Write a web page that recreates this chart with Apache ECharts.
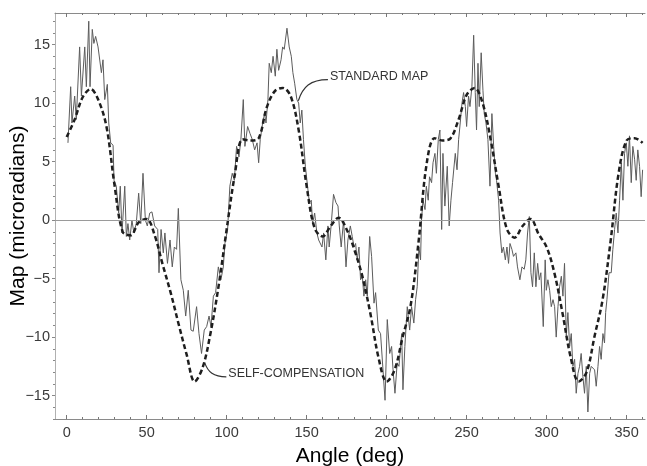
<!DOCTYPE html>
<html>
<head>
<meta charset="utf-8">
<title>Map vs angle</title>
<script src="https://cdn.jsdelivr.net/npm/echarts@6/dist/echarts.min.js"></script>
<style>
  html, body { margin: 0; padding: 0; background: #fff; }
  #chart { width: 647px; height: 466px; }
</style>
</head>
<body>
<div id="chart"></div>
<script>
// standard map (noisy trace)
var stdAngle = [0.8, 2.5, 3.3, 5, 6, 8.1, 9.2, 11.3, 12.3, 13.8, 14.6, 16, 17, 18.1, 19.6, 21.7, 22.7, 23.8, 25.4, 26.3,
  27.5, 29, 29.6, 31, 32.5, 33.5, 34.6, 36.3, 37.3, 38.3, 39.4, 40.8, 42, 43.5, 45, 46.3, 47.7, 49.2, 50.4, 51.9,
  53.3, 55, 56.9, 57.7, 59, 60.4, 61.4, 63, 64.6, 66, 67.3, 68.7, 69.8, 71.4, 72.9, 74.4, 76, 77.7, 79.1, 81.2,
  82.7, 84.3, 86, 87.5, 89, 90.2, 91.7, 93.1, 94.8, 96.4, 97.9, 98.9, 100.6, 102, 103.5, 104.8, 106.2, 107.7, 108.9, 110.4,
  111.4, 113.1, 114.6, 116, 117.5, 119, 120, 121, 122.5, 123.7, 124.6, 125.8, 126.6, 127.9, 129, 130.4, 131.4, 132.5, 134, 135,
  136, 137.7, 139.1, 140.4, 141.4, 142.5, 143.9, 145, 146, 147, 148, 149.2, 150.8, 151.7, 152.9, 153.7, 155, 156.4, 157.5, 159.6,
  160.6, 162, 163.3, 164.1, 165.4, 166.8, 168.3, 169.6, 170.4, 171.6, 173.1, 174.6, 175.8, 177.3, 178.5, 179.6, 180.6, 181.6, 182.7, 183.7,
  184.8, 185.8, 186.9, 187.9, 189.4, 190.6, 192.1, 193.1, 194.8, 196.2, 197.3, 199, 200.4, 201.9, 203.1, 204, 205.2, 206.6, 207.7, 209.4,
  210.2, 211.4, 212.9, 214.4, 215.6, 217, 218.1, 219.1, 220.2, 221.2, 221.8, 222.7, 224, 224.8, 226, 226.8, 228.1, 229, 230.2, 231.1,
  232.3, 233.3, 234.4, 235.2, 236.4, 237.9, 239.1, 240.2, 241.2, 242.9, 244, 245, 246, 247.1, 248.1, 249.2, 250, 251.2, 252.1, 253.3,
  254.4, 255.4, 256.2, 257.1, 257.9, 259.1, 260.2, 261, 262.1, 263.3, 264.6, 265.8, 266.9, 268, 268.7, 270, 270.9, 272, 273, 274.2,
  275.2, 276.2, 277.1, 278.3, 279.3, 280.8, 281.8, 283.3, 284.6, 286, 287, 288.1, 289.2, 290.2, 291.2, 292.3, 293.3, 294.4, 295.4, 296.4,
  297.9, 299.1, 299.8, 300.8, 301.9, 302.9, 304, 305, 306, 307.1, 308.1, 309.2, 310.2, 311.2, 312.3, 313.3, 314.4, 315.4, 316.4, 317.5,
  318.5, 319.6, 320.6, 321.6, 322.7, 323.7, 324.8, 325.8, 326.9, 327.9, 328.9, 330, 331, 332.1, 333.1, 334.1, 335.2, 336.2, 336.9, 337.7,
  339, 340.4, 341.4, 342.5, 343.5, 344.6, 345.6, 346.7, 347.7, 348.7, 349.8, 350.8, 351.8, 352.9, 353.9, 355, 356, 357, 358.1, 359.1, 360]
var stdMap = [6.6, 11.4, 8.3, 10.6, 8.6, 14.8, 10.6, 14.8, 11.4, 17.0, 11.4, 16.3, 15.1, 15.7, 14.8, 12.6, 13.7, 10.3, 11.6, 8.3,
  6.6, 6.4, 3.4, 2.9, 0.6, 2.9, -1.1, 2.9, -1.4, -0.3, -1.7, 0, -1.1, -0.3, 2.3, -0.3, 4.0, 0, -0.5, 0.6,
  0.7, -0.5, -0.8, -4.5, -0.8, -2.8, -1.1, -3.7, -1.7, -4.0, -2.3, -2.5, 1.0, -5.1, -6.0, -8.2, -6.0, -9.4, -9.5, -7.4,
  -9.7, -11.4, -9.4, -9.1, -8.2, -9.1, -6.5, -6.2, -4.0, -5.1, -4.0, -2.0, -0.8, 2.9, 4.0, 3.4, 6.3, 5.4, 6.9, 10.3,
  6.3, 8.0, 7.4, 6.9, 6.0, 6.6, 4.9, 6.9, 8.3, 9.1, 8.3, 10.3, 13.4, 12.6, 14.0, 12.3, 14.6, 12.8, 13.7, 14.8,
  14.6, 16.4, 14.8, 14.0, 12.6, 11.7, 10.3, 10.0, 8.3, 9.4, 6.9, 4.6, 2.6, 1.5, 1.7, -0.3, 0.6, -1.1, -1.7, -2.3,
  -1.1, -3.4, -0.5, -2.3, -0.3, 2.2, 1.5, 1.2, -0.5, -2.3, 0, -4.0, -1.7, -0.5, -1.4, -2.3, -2.0, -3.4, -2.3, -5.1,
  -4.8, -6.5, -5.1, -6.5, -1.4, -3.1, -7.1, -6.2, -9.4, -9.7, -9.7, -15.4, -8.5, -11.4, -10.8, -12.8, -14.8, -12.2, -12.5, -9.7,
  -14.5, -10.8, -7.4, -9.4, -7.4, -8.8, -6.8, -5.7, -2.3, -3.4, 0, 1.7, 0.9, 2.9, 1.7, 3.7, 3.2, 4.9, 5.7, 4.0,
  6.9, 7.7, -0.8, 5.7, 1.2, 4.6, -0.5, 1.7, 3.2, 5.7, 4.3, 6.9, 8.3, 10.0, 10.9, 9.7, 8.0, 10.6, 9.7, 11.4,
  15.8, 10.9, 7.7, 13.4, 9.7, 14.3, 11.1, 9.1, 8.3, 6.9, 2.9, 9.1, 6.3, 4.0, 3.4, 1.7, -1.1, -2.8, -2.3, -3.4,
  -2.3, -3.7, -2.0, -2.5, -3.1, -2.8, -4.0, -5.1, -4.0, -4.2, -3.4, -1.1, 0.3, -4.5, -5.7, -2.8, -5.7, -3.7, -5.1, -4.5,
  -9.1, -3.4, -6.0, -5.1, -6.0, -7.4, -6.8, -7.4, -10.0, -7.4, -5.7, -4.8, -6.5, -3.7, -9.9, -7.9, -10.8, -9.7, -12.5, -11.9,
  -14.8, -13.1, -12.5, -11.4, -13.4, -14.8, -12.5, -16.4, -13.1, -12.5, -12.5, -12.8, -14.2, -12.5, -10.8, -11.9, -9.7, -10.5, -7.9, -6.8,
  -4.5, -4.5, -2.5, -0.8, 0.6, -1.1, 1.7, 4.9, 1.7, 5.7, 6.6, 4.6, 7.2, 3.2, 6.3, 5.2, 3.4, 6.0, 4.6, 2.0, 4.3]

// self-compensation (dashed), every 5 deg
var compAngle = [0, 5, 10, 15, 20, 25, 30, 35, 40, 45, 50, 55, 60, 65, 70, 75, 80, 85, 90, 95,
  100, 105, 110, 115, 120, 125, 130, 135, 140, 145, 150, 155, 160, 165, 170, 175, 180, 185, 190, 195,
  200, 205, 210, 215, 220, 225, 230, 235, 240, 245, 250, 255, 260, 265, 270, 275, 280, 285, 290, 295,
  300, 305, 310, 315, 320, 325, 330, 335, 340, 345, 350, 355, 360]
var compMap = [7.1, 8.6, 10.5, 11.2, 10.2, 7.9, 2.9, -1.0, -1.3, -0.2, 0.1, -1.3, -3.8, -6.2, -8.9, -11.5, -13.8, -12.6, -9.6, -5.6,
  -0.8, 3.8, 6.9, 6.8, 7.0, 9.6, 11.0, 11.3, 10.6, 7.7, 2.9, -0.7, -1.4, -0.5, 0.2, -0.8, -2.6, -4.9, -8.1, -11.8,
  -13.8, -12.8, -10.0, -7.3, -1.8, 4.8, 7.0, 6.8, 7.0, 8.6, 10.7, 11.3, 10.0, 6.9, 2.9, -0.7, -1.5, -0.5, 0.1, -1.2,
  -2.3, -4.6, -8.0, -11.7, -13.8, -13.0, -9.9, -6.8, -1.8, 4.0, 6.8, 7.0, 6.6]

var xMajor = [0, 50, 100, 150, 200, 250, 300, 350]
var xMinor = [10, 20, 30, 40, 60, 70, 80, 90, 110, 120, 130, 140, 160, 170, 180, 190, 210, 220, 230, 240,
  260, 270, 280, 290, 310, 320, 330, 340, 360]
var yMajor = [-15, -10, -5, 0, 5, 10, 15]
var yMinor = [-17, -16, -14, -13, -12, -11, -9, -8, -7, -6, -4, -3, -2, -1, 1, 2, 3, 4, 6, 7, 8, 9, 11, 12, 13, 14, 16, 17]

var FONT = "'Liberation Sans', Arial, sans-serif"
var X_MIN = -7.3
var X_MAX = 361.5
var Y_MIN = -17.0
var Y_MAX = 17.7

function zip (a, b) {
  return a.map(function (v, i) { return [v, b[i]] })
}

function minus (v) {
  return String(v).replace('-', '\u2212')
}

// one x axis per tick set, all on the same scale
function xAx (pos, ticks, len, showLine, showLabel, name) {
  return {
    type: 'value',
    position: pos,
    min: X_MIN,
    max: X_MAX,
    name: name || '',
    nameLocation: 'middle',
    nameGap: 27,
    nameTextStyle: { color: '#000', fontSize: 21, fontFamily: FONT },
    splitLine: { show: false },
    axisLine: { show: showLine, onZero: false, lineStyle: { color: '#8a8a8a', width: 1 } },
    axisTick: { show: true, inside: true, length: len, customValues: ticks, lineStyle: { color: '#777' } },
    axisLabel: {
      show: showLabel,
      customValues: ticks,
      margin: 6,
      color: '#3a3a3a',
      fontSize: 14.5,
      fontFamily: FONT,
      formatter: minus
    }
  }
}

function yAx (ticks, len, showLine, showLabel, name) {
  return {
    type: 'value',
    position: 'left',
    min: Y_MIN,
    max: Y_MAX,
    name: name || '',
    nameLocation: 'middle',
    nameGap: 26,
    nameMoveOverlap: false,
    nameTextStyle: { color: '#000', fontSize: 21, fontFamily: FONT },
    splitLine: { show: false },
    axisLine: { show: showLine, onZero: false, lineStyle: { color: '#b0b0b0', width: 1 } },
    axisTick: { show: true, inside: false, length: len, customValues: ticks, lineStyle: { color: '#888' } },
    axisLabel: {
      show: showLabel,
      customValues: ticks,
      margin: 5,
      color: '#3a3a3a',
      fontSize: 14.5,
      fontFamily: FONT,
      formatter: minus
    }
  }
}

var myChart = echarts.init(document.getElementById('chart'), null, { renderer: 'canvas' })

myChart.setOption({
  backgroundColor: '#fff',
  animation: false,
  grid: { left: 55, right: 2, top: 13, bottom: 47, containLabel: false, outerBoundsMode: 'none' },
  xAxis: [
    xAx('bottom', xMajor, 4, true, true, 'Angle (deg)'),
    xAx('bottom', xMinor, 2, false, false),
    xAx('top', xMajor, 4, true, false),
    xAx('top', xMinor, 2, false, false)
  ],
  yAxis: [
    yAx(yMajor, 3, true, true, 'Map (microradians)'),
    yAx(yMinor, 2, false, false)
  ],
  series: [
    {
      name: 'STANDARD MAP',
      type: 'line',
      xAxisIndex: 0,
      yAxisIndex: 0,
      data: zip(stdAngle, stdMap),
      symbol: 'none',
      lineStyle: { color: '#5c5c5c', width: 1 },
      z: 2,
      markLine: {
        silent: true,
        symbol: 'none',
        label: { show: false },
        lineStyle: { color: '#9a9a9a', width: 1, type: 'solid' },
        data: [{ yAxis: 0 }]
      }
    },
    {
      name: 'SELF-COMPENSATION',
      type: 'line',
      xAxisIndex: 0,
      yAxisIndex: 0,
      data: zip(compAngle, compMap),
      smooth: 0.35,
      symbol: 'none',
      lineStyle: { color: '#1e1e1e', width: 2.5, type: [5, 3], cap: 'butt' },
      z: 3
    }
  ]
})

// callout labels with curved leaders, anchored in data space
function px (a, v) {
  return myChart.convertToPixel({ xAxisIndex: 0, yAxisIndex: 0 }, [a, v])
}

function callout (from, to, text) {
  var p0 = px(from[0], from[1])
  var p1 = px(to[0], to[1])
  var dx = p1[0] - p0[0]
  var dy = p1[1] - p0[1]
  return [
    {
      type: 'bezierCurve',
      shape: {
        x1: p0[0], y1: p0[1],
        cpx1: p0[0] + dx * 0.15, cpy1: p0[1] + dy * 0.65,
        cpx2: p0[0] + dx * 0.4, cpy2: p1[1],
        x2: p1[0], y2: p1[1]
      },
      style: { stroke: '#333', lineWidth: 1.2, fill: null },
      silent: true
    },
    {
      type: 'text',
      x: p1[0] + 2,
      y: p1[1] - 3,
      style: {
        text: text,
        fill: '#333',
        font: '12.5px ' + FONT,
        textVerticalAlign: 'middle'
      },
      silent: true
    }
  ]
}

myChart.setOption({
  graphic: callout([144.8, 10.2], [163.3, 12.0], 'STANDARD MAP')
    .concat(callout([86.3, -12.2], [99.8, -13.4], 'SELF-COMPENSATION'))
})
</script>
</body>
</html>
